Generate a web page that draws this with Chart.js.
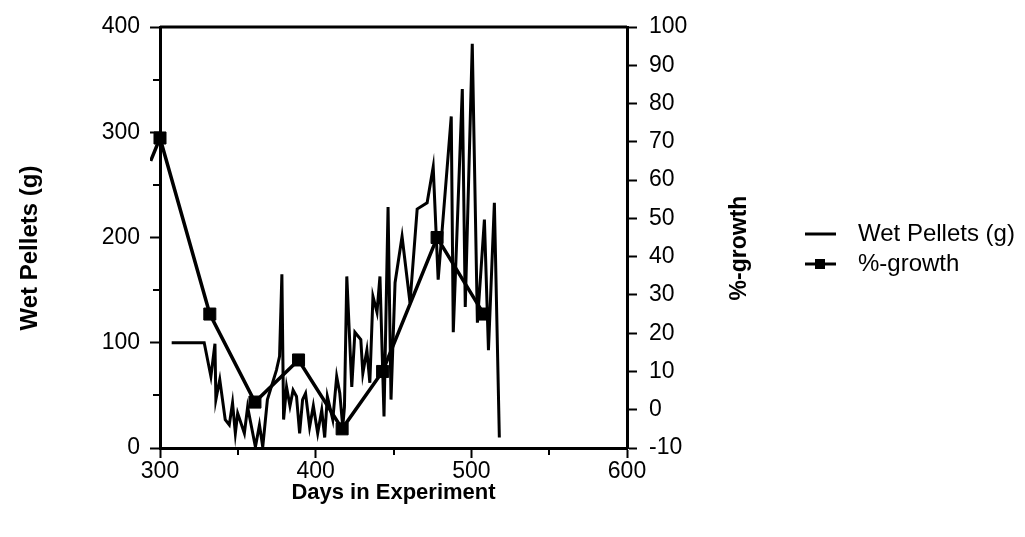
<!DOCTYPE html>
<html>
<head>
<meta charset="utf-8">
<title>Wet Pellets and %-growth</title>
<script src="https://cdn.jsdelivr.net/npm/chart.js@4.4.1/dist/chart.umd.min.js"></script>
<style>
html, body { margin: 0; padding: 0; background: #fff; }
#wrap { width: 1025px; height: 537px; position: relative; }
</style>
</head>
<body>
<div id="wrap"><canvas id="pellet-chart"></canvas></div>
<script>
// wet pellets (g) per day
var wetDays = [307.5, 328.4, 332.7, 335.3, 335.9, 338.4, 341.9, 344.5, 346.6, 348.4,
    349.9, 354.2, 356.3, 361.3, 363.9, 366.0, 369.0, 374.8, 376.8, 378.3,
    379.4, 381.3, 383.5, 385.5, 387.7, 389.7, 391.6, 393.5, 396.1, 398.5,
    401.3, 403.9, 405.8, 407.5, 411.0, 413.5, 415.5, 417.4, 418.5, 420.0,
    423.2, 425.2, 429.0, 430.3, 432.9, 434.8, 436.8, 439.4, 441.3, 443.9,
    446.5, 448.4, 451.0, 455.5, 460.6, 465.2, 471.6, 475.5, 478.7, 487.1,
    488.4, 494.2, 496.1, 500.6, 503.9, 508.4, 511.0, 514.8, 518.0];
var wetValues = [100, 100, 68, 99, 46, 65, 27, 22, 43, 14,
    33, 14, 39, 1, 22, 1, 46, 74, 87, 165,
    27, 58, 40, 55, 49, 14, 46, 52, 20, 40,
    14, 36, 10, 49, 27, 68, 52, 20, 39, 163,
    58, 110, 103, 71, 93, 62, 144, 129, 163, 30,
    229, 46, 157, 201, 138, 227, 233, 267, 160, 315,
    110, 341, 134, 384, 119, 217, 93, 233, 10];

// %-growth samples (first one sits just left of the axis, only its line shows)
var growthDays = [294, 300, 332, 361, 389, 417, 443, 478, 508];
var growthValues = [65, 71, 25, 2, 13, -5, 10, 45, 25];

var xTickLabels = [300, 400, 500, 600];
var leftTickLabels = [0, 100, 200, 300, 400];
var rightTickLabels = [-10, 0, 10, 20, 30, 40, 50, 60, 70, 80, 90, 100];

Chart.defaults.font.family = '"Liberation Sans", Arial, Helvetica, sans-serif';
Chart.defaults.font.size = 23;
Chart.defaults.color = '#000';

var extras = {
    id: 'extras',
    afterDraw: function(chart) {
        var ctx = chart.ctx;
        var a = chart.chartArea;
        ctx.save();
        ctx.strokeStyle = '#000';
        ctx.fillStyle = '#000';

        // top frame line
        ctx.lineWidth = 3;
        ctx.beginPath();
        ctx.moveTo(a.left, a.top);
        ctx.lineTo(a.right, a.top);
        ctx.stroke();

        // short minor ticks
        ctx.lineWidth = 2;
        [['x', 100], ['y', 100], ['y1', 10]].forEach(function(s) {
            var sc = chart.scales[s[0]];
            sc.ticks.forEach(function(t) {
                if (t.value % s[1] === 0) return;
                var p = Math.round(sc.getPixelForValue(t.value));
                ctx.beginPath();
                if (s[0] === 'x') {
                    ctx.moveTo(p, a.bottom); ctx.lineTo(p, a.bottom + 7);
                } else if (s[0] === 'y') {
                    ctx.moveTo(a.left, p); ctx.lineTo(a.left - 7, p);
                } else {
                    ctx.moveTo(a.right, p); ctx.lineTo(a.right + 7, p);
                }
                ctx.stroke();
            });
        });

        // rotated axis titles
        ctx.font = 'bold 24px "Liberation Sans", Arial, sans-serif';
        ctx.textAlign = 'center';
        ctx.textBaseline = 'middle';
        ctx.save();
        ctx.translate(30, 248);
        ctx.rotate(-Math.PI / 2);
        ctx.fillText('Wet Pellets (g)', 0, 0);
        ctx.restore();
        ctx.font = 'bold 23px "Liberation Sans", Arial, sans-serif';
        ctx.save();
        ctx.translate(740, 248);
        ctx.rotate(-Math.PI / 2);
        ctx.fillText('%-growth', 0, 0);
        ctx.restore();

        // legend
        ctx.font = '24px "Liberation Sans", Arial, sans-serif';
        ctx.textAlign = 'left';
        chart.data.datasets.forEach(function(ds, i) {
            var y = 234 + i * 30;
            ctx.lineWidth = 3;
            ctx.beginPath();
            ctx.moveTo(805, y);
            ctx.lineTo(836, y);
            ctx.stroke();
            if (ds.pointStyle === 'rect') {
                ctx.fillRect(815, y - 5, 10, 10);
            }
            ctx.fillText(ds.label, 858, y);
        });
        ctx.restore();
    }
};

new Chart(document.getElementById('pellet-chart'), {
    type: 'line',
    data: {
        datasets: [
            {
                label: 'Wet Pellets (g)',
                data: wetDays.map(function(d, i) { return {x: d, y: wetValues[i]}; }),
                yAxisID: 'y',
                borderColor: '#000',
                borderWidth: 3,
                pointRadius: 0,
                tension: 0
            },
            {
                label: '%-growth',
                data: growthDays.map(function(d, i) { return {x: d, y: growthValues[i]}; }),
                yAxisID: 'y1',
                borderColor: '#000',
                borderWidth: 3.5,
                pointStyle: 'rect',
                pointRadius: function(c) { return growthDays[c.dataIndex] < 300 ? 0 : 8.5; },
                pointBackgroundColor: '#000',
                pointBorderColor: '#000',
                pointBorderWidth: 1,
                tension: 0,
                clip: {left: 10, top: 10, right: 10, bottom: 10}
            }
        ]
    },
    options: {
        responsive: true,
        maintainAspectRatio: false,
        animation: false,
        events: [],
        layout: { padding: {top: 27, left: 0, right: 0, bottom: 0} },
        plugins: {
            legend: { display: false },
            tooltip: { enabled: false }
        },
        scales: {
            x: {
                type: 'linear',
                min: 300,
                max: 600,
                afterFit: function(s) { s.height = 89; },
                ticks: {
                    stepSize: 50,
                    autoSkip: false,
                    maxRotation: 0,
                    padding: 0,
                    callback: function(v) { return xTickLabels.indexOf(v) >= 0 ? v : ''; }
                },
                grid: {
                    drawOnChartArea: false,
                    tickLength: 10,
                    tickWidth: 2,
                    tickColor: function(c) { return c.tick && c.tick.value % 100 === 0 ? '#000' : 'rgba(0,0,0,0)'; }
                },
                border: { color: '#000', width: 3 },
                title: {
                    display: true,
                    text: 'Days in Experiment',
                    font: { size: 22, weight: 'bold' },
                    padding: { top: 0, bottom: 31 }
                }
            },
            y: {
                position: 'left',
                min: 0,
                max: 400,
                afterFit: function(s) { s.width = 160; },
                ticks: {
                    stepSize: 50,
                    padding: 10,
                    callback: function(v) { return leftTickLabels.indexOf(v) >= 0 ? v : ''; }
                },
                grid: {
                    drawOnChartArea: false,
                    tickLength: 10,
                    tickWidth: 2,
                    tickColor: function(c) { return c.tick && c.tick.value % 100 === 0 ? '#000' : 'rgba(0,0,0,0)'; }
                },
                border: { color: '#000', width: 3 }
            },
            y1: {
                position: 'right',
                min: -10,
                max: 100,
                afterFit: function(s) { s.width = 398; },
                ticks: {
                    stepSize: 5,
                    padding: 12,
                    callback: function(v) { return rightTickLabels.indexOf(v) >= 0 ? v : ''; }
                },
                grid: {
                    drawOnChartArea: false,
                    tickLength: 10,
                    tickWidth: 2,
                    tickColor: function(c) { return c.tick && c.tick.value % 10 === 0 ? '#000' : 'rgba(0,0,0,0)'; }
                },
                border: { color: '#000', width: 3 }
            }
        }
    },
    plugins: [extras]
});
</script>
</body>
</html>
